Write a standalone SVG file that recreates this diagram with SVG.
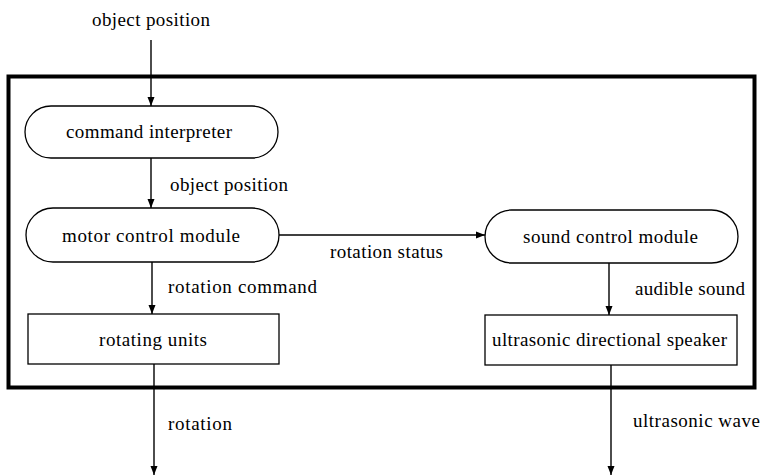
<svg xmlns="http://www.w3.org/2000/svg" width="761" height="476" viewBox="0 0 761 476">
<style>
text{font-family:"Liberation Serif","Times New Roman",serif;font-size:19px;fill:#000}
.n{fill:#fff;stroke:#000;stroke-width:1.3}
.c{stroke:#000;stroke-width:1.4;fill:none;marker-end:url(#ah)}
</style>
<defs>
<marker id="ah" viewBox="0 0 9 8" refX="9" refY="4" markerWidth="9" markerHeight="8" markerUnits="userSpaceOnUse" orient="auto">
<path d="M0,0.5 L9,4 L0,7.5 Z" fill="#000"/>
</marker>
</defs>
<rect width="761" height="476" fill="#fff"/>
<rect id="frame" x="8.5" y="76.5" width="746" height="311" fill="none" stroke="#000" stroke-width="4"/>
<g id="connectors">
<line class="c" x1="151" y1="40" x2="151" y2="106"/>
<line class="c" x1="151" y1="158" x2="151" y2="208"/>
<line class="c" x1="152" y1="262" x2="152" y2="314"/>
<line class="c" x1="154" y1="364" x2="154" y2="475"/>
<line class="c" x1="279" y1="235" x2="485" y2="235"/>
<line class="c" x1="609" y1="263" x2="609" y2="315"/>
<line class="c" x1="611" y1="365" x2="611" y2="475"/>
<text x="92" y="26" textLength="118" lengthAdjust="spacing">object position</text>
<text x="170" y="191" textLength="118" lengthAdjust="spacing">object position</text>
<text x="168" y="293" textLength="149" lengthAdjust="spacing">rotation command</text>
<text x="168" y="430" textLength="64" lengthAdjust="spacing">rotation</text>
<text x="330" y="258" textLength="113" lengthAdjust="spacing">rotation status</text>
<text x="635" y="295" textLength="110" lengthAdjust="spacing">audible sound</text>
<text x="633" y="427" textLength="127" lengthAdjust="spacing">ultrasonic wave</text>
</g>
<g id="command-interpreter">
<rect class="n" x="25" y="106" width="253" height="52" rx="26"/>
<text x="66" y="138" textLength="166" lengthAdjust="spacing">command interpreter</text>
</g>
<g id="motor-control-module">
<rect class="n" x="26" y="208" width="253" height="54" rx="27"/>
<text x="62" y="242" textLength="178" lengthAdjust="spacing">motor control module</text>
</g>
<g id="rotating-units">
<rect class="n" x="28" y="314" width="251" height="50"/>
<text x="99" y="346" textLength="108" lengthAdjust="spacing">rotating units</text>
</g>
<g id="sound-control-module">
<rect class="n" x="485" y="210" width="253" height="53" rx="26.5"/>
<text x="523" y="243" textLength="175" lengthAdjust="spacing">sound control module</text>
</g>
<g id="ultrasonic-directional-speaker">
<rect class="n" x="485" y="315" width="252" height="50"/>
<text x="492" y="346" textLength="235" lengthAdjust="spacing">ultrasonic directional speaker</text>
</g>
</svg>
